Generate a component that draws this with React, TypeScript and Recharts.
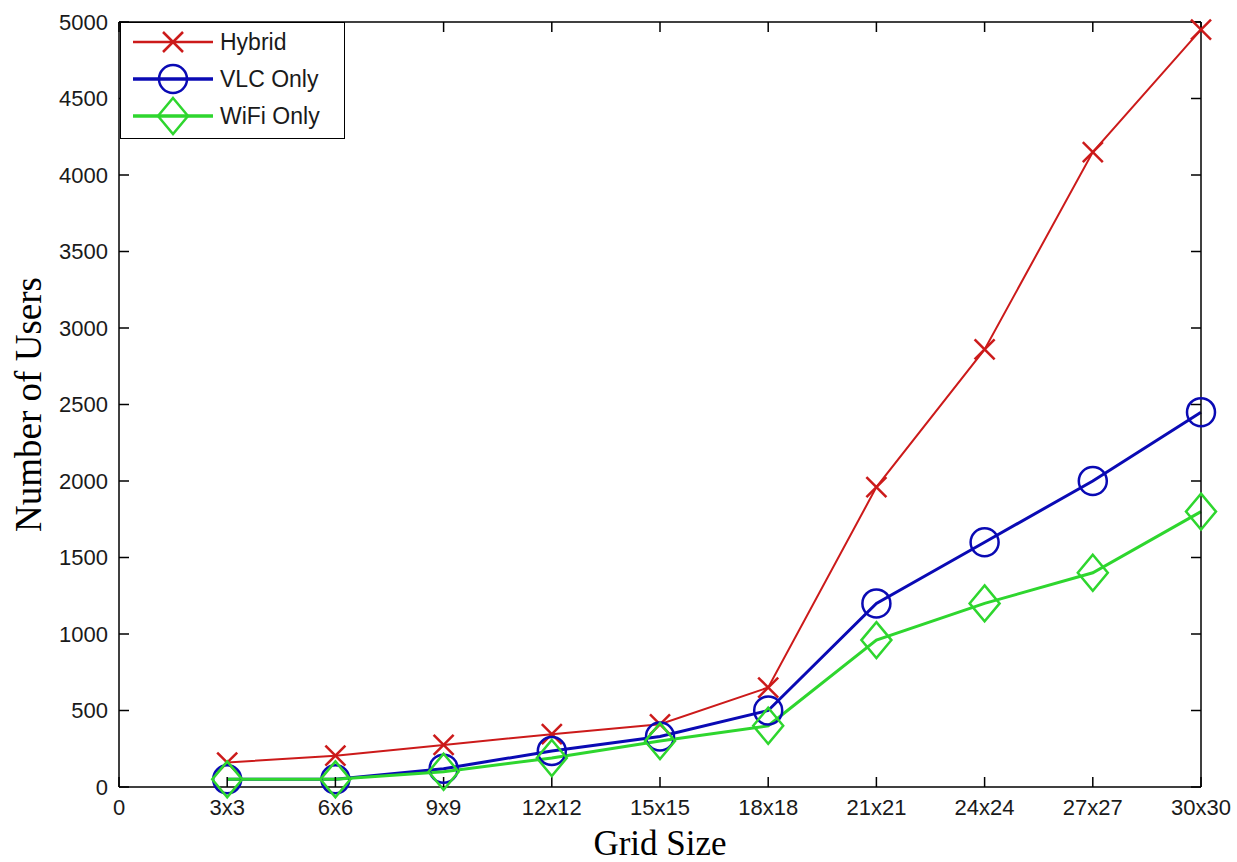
import { LineChart, Line, XAxis, YAxis, Legend } from 'recharts';

const GRID_LABELS = ['3x3', '6x6', '9x9', '12x12', '15x15', '18x18', '21x21', '24x24', '27x27', '30x30'];
const HYBRID = [160, 205, 275, 345, 410, 650, 1960, 2860, 4150, 4950];
const VLC_ONLY = [50, 50, 120, 235, 330, 500, 1200, 1600, 2000, 2450];
const WIFI_ONLY = [50, 50, 100, 190, 300, 400, 960, 1200, 1400, 1800];

const X_TICKS = [0, 1, 2, 3, 4, 5, 6, 7, 8, 9, 10];
const Y_TICKS = [0, 500, 1000, 1500, 2000, 2500, 3000, 3500, 4000, 4500, 5000];

const RED = '#cc1a1a';
const BLUE = '#0a0ab4';
const GREEN = '#2ed62e';

const data = GRID_LABELS.map((label, i) => ({
  x: i + 1,
  label,
  hybrid: HYBRID[i],
  vlc: VLC_ONLY[i],
  wifi: WIFI_ONLY[i],
}));

const xLabel = (v: number) => (v === 0 ? '0' : GRID_LABELS[v - 1]);

const tickFont = { fill: '#1a1a1a', fontSize: 22, fontFamily: '"Liberation Sans", Arial, sans-serif' };
const blankTick = () => <g />;
const boxLine = { stroke: '#000', strokeWidth: 1.5 };

// marker shapes, used by the lines and the legend
function Cross({ cx, cy, color }: { cx: number; cy: number; color: string }) {
  const s = 10;
  return (
    <g stroke={color} strokeWidth={2.5}>
      <line x1={cx - s} y1={cy - s} x2={cx + s} y2={cy + s} />
      <line x1={cx - s} y1={cy + s} x2={cx + s} y2={cy - s} />
    </g>
  );
}

function Ring({ cx, cy, color }: { cx: number; cy: number; color: string }) {
  return <circle cx={cx} cy={cy} r={14} fill="none" stroke={color} strokeWidth={2.5} />;
}

function Diamond({ cx, cy, color }: { cx: number; cy: number; color: string }) {
  const w = 15;
  const h = 18;
  return (
    <polygon
      points={`${cx},${cy - h} ${cx + w},${cy} ${cx},${cy + h} ${cx - w},${cy}`}
      fill="none"
      stroke={color}
      strokeWidth={2.5}
    />
  );
}

const SERIES = [
  { key: 'hybrid', name: 'Hybrid', color: RED, width: 2, Marker: Cross },
  { key: 'vlc', name: 'VLC Only', color: BLUE, width: 3, Marker: Ring },
  { key: 'wifi', name: 'WiFi Only', color: GREEN, width: 3, Marker: Diamond },
];

function LegendBox() {
  return (
    <div
      style={{
        width: 225,
        height: 117,
        boxSizing: 'border-box',
        border: '1.5px solid #000',
        background: '#fff',
      }}
    >
      <svg width={222} height={114}>
        {SERIES.map((s, i) => {
          const y = 19 + i * 37;
          const M = s.Marker;
          return (
            <g key={s.key}>
              <line x1={12} x2={92} y1={y} y2={y} stroke={s.color} strokeWidth={s.width + 0.5} />
              <M cx={52} cy={y} color={s.color} />
              <text
                x={99}
                y={y + 8}
                fontSize={23}
                fill="#1a1a1a"
                fontFamily='"Liberation Sans", Arial, sans-serif'
              >
                {s.name}
              </text>
            </g>
          );
        })}
      </svg>
    </div>
  );
}

export default function App() {
  return (
    <div style={{ position: 'absolute', left: 0, top: 0, background: '#fff' }}>
      <LineChart width={1237} height={862} data={data} margin={{ top: 22, right: 36, left: 0, bottom: 0 }}>
        <XAxis
          xAxisId="main"
          dataKey="x"
          type="number"
          domain={[0, 10]}
          ticks={X_TICKS}
          interval={0}
          tickFormatter={xLabel}
          height={75}
          tickLine={false}
          tickSize={0}
          tickMargin={12}
          axisLine={boxLine}
          tick={tickFont}
          label={{
            value: 'Grid Size',
            position: 'insideBottom',
            offset: 7,
            fontSize: 35,
            fill: '#000',
            fontFamily: '"Liberation Serif", "Times New Roman", serif',
          }}
        />
        <XAxis
          xAxisId="bottomTicks"
          dataKey="x"
          type="number"
          domain={[0, 10]}
          ticks={X_TICKS}
          interval={0}
          mirror
          height={10}
          tickSize={10}
          tick={blankTick}
          axisLine={false}
          tickLine={boxLine}
        />
        <XAxis
          xAxisId="top"
          dataKey="x"
          orientation="top"
          type="number"
          domain={[0, 10]}
          ticks={X_TICKS}
          interval={0}
          mirror
          height={10}
          tickSize={10}
          tick={blankTick}
          axisLine={boxLine}
          tickLine={boxLine}
        />
        <YAxis
          yAxisId="main"
          type="number"
          domain={[0, 5000]}
          ticks={Y_TICKS}
          interval={0}
          width={119}
          tickLine={false}
          tickSize={0}
          tickMargin={11}
          axisLine={boxLine}
          tick={tickFont}
          label={{
            value: 'Number of Users',
            angle: -90,
            position: 'insideLeft',
            offset: 28,
            style: { textAnchor: 'middle' },
            fontSize: 37,
            fill: '#000',
            fontFamily: '"Liberation Serif", "Times New Roman", serif',
          }}
        />
        <YAxis
          yAxisId="leftTicks"
          type="number"
          domain={[0, 5000]}
          ticks={Y_TICKS}
          interval={0}
          mirror
          width={10}
          tickSize={10}
          tick={blankTick}
          axisLine={false}
          tickLine={boxLine}
        />
        <YAxis
          yAxisId="right"
          orientation="right"
          type="number"
          domain={[0, 5000]}
          ticks={Y_TICKS}
          interval={0}
          mirror
          width={10}
          tickSize={10}
          tick={blankTick}
          axisLine={boxLine}
          tickLine={boxLine}
        />
        <Legend
          layout="vertical"
          align="center"
          verticalAlign="middle"
          content={() => <LegendBox />}
          wrapperStyle={{ left: 120, top: 22, width: 225, height: 117 }}
        />
        {/* invisible series so the tick-only axes get their scales */}
        <Line
          xAxisId="bottomTicks"
          yAxisId="leftTicks"
          dataKey="hybrid"
          stroke="none"
          dot={false}
          activeDot={false}
          legendType="none"
          isAnimationActive={false}
        />
        <Line
          xAxisId="top"
          yAxisId="right"
          dataKey="hybrid"
          stroke="none"
          dot={false}
          activeDot={false}
          legendType="none"
          isAnimationActive={false}
        />
        {SERIES.map((s) => (
          <Line
            key={s.key}
            xAxisId="main"
            yAxisId="main"
            type="linear"
            dataKey={s.key}
            name={s.name}
            stroke={s.color}
            strokeWidth={s.width}
            isAnimationActive={false}
            dot={(p: any) => <s.Marker key={`${s.key}-${p.index}`} cx={p.cx} cy={p.cy} color={s.color} />}
            activeDot={false}
          />
        ))}
      </LineChart>
    </div>
  );
}
